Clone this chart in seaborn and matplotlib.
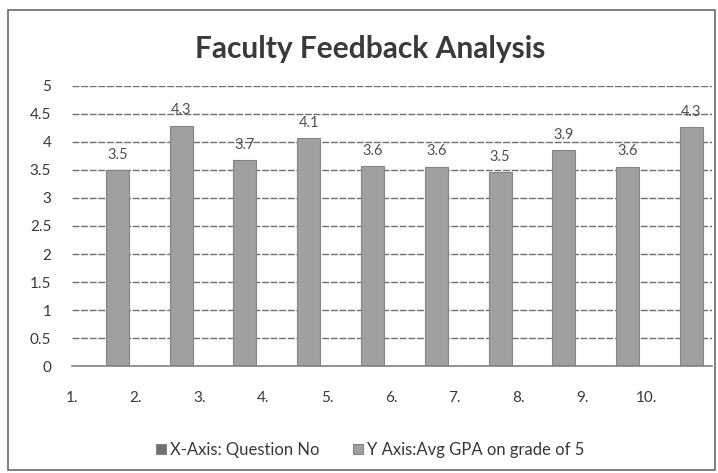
import numpy as np
import pandas as pd
import matplotlib
matplotlib.use("Agg")
import matplotlib.pyplot as plt
import seaborn as sns
from matplotlib.patches import Rectangle

# ---- data ----
questions = ["1.", "2.", "3.", "4.", "5.", "6.", "7.", "8.", "9.", "10."]
question_no_series = [0, 0, 0, 0, 0, 0, 0, 0, 0, 0]
avg_gpa = [3.5, 4.29, 3.68, 4.07, 3.57, 3.56, 3.46, 3.86, 3.56, 4.26]
series_names = ["X-Axis: Question No", "Y Axis:Avg GPA on grade of 5"]
title = "Faculty Feedback Analysis"
yticks = [0, 0.5, 1, 1.5, 2, 2.5, 3, 3.5, 4, 4.5, 5]

df = pd.DataFrame({
    "Question": questions * 2,
    "Value": question_no_series + avg_gpa,
    "Series": [series_names[0]] * len(questions) + [series_names[1]] * len(questions),
})

sns.set_theme(style="white")
plt.rcParams["font.family"] = ["Lato", "DejaVu Sans"]

fig = plt.figure(figsize=(7.18, 4.73), dpi=100)
ax = fig.add_axes([0.1003, 0.2262, 0.8913, 0.592])

palette = {series_names[0]: "#6f6f6f", series_names[1]: "#a0a0a0"}
sns.barplot(data=df, x="Question", y="Value", hue="Series", palette=palette,
            width=0.72, ax=ax, edgecolor="#858585", linewidth=0.8,
            saturation=1, legend=True)

# data labels for the GPA series
gpa_container = ax.containers[1]
ax.bar_label(gpa_container, labels=[f"{v:.1f}" for v in avg_gpa],
             padding=6, fontsize=10.5, color="#505050")

ax.set_ylim(0, 5)
ax.set_xlim(-0.5, len(questions) - 0.5)
ax.set_yticks(yticks)
ax.set_yticklabels([f"{t:g}" for t in yticks], fontsize=11, color="#383838")
ax.set_xticks(np.arange(len(questions)) - 0.53)
ax.set_xticklabels(questions, fontsize=11, color="#383838")
ax.tick_params(axis="x", length=0, pad=18)
ax.tick_params(axis="y", length=0, pad=15)
ax.set_xlabel("")
ax.set_ylabel("")

for t in yticks[1:]:
    ax.axhline(t, color="#707070", linewidth=1.0, linestyle=(0, (5, 1.2)), zorder=0)
ax.set_axisbelow(True)
for s in ["top", "right", "left"]:
    ax.spines[s].set_visible(False)
ax.spines["bottom"].set_color("#808080")
ax.spines["bottom"].set_linewidth(1.2)

leg = ax.legend(loc="center", bbox_to_anchor=(0.466, -0.30),
                ncol=2, frameon=False, fontsize=12, handlelength=0.6,
                handleheight=0.6, handletextpad=0.25, columnspacing=2.0)
for txt in leg.get_texts():
    txt.set_color("#383838")

fig.text(0.515, 0.897, title, ha="center", va="center", fontsize=21.5,
         fontweight="bold", color="#3a3a3a")

fig.patches.append(Rectangle((0.011, 0.006), 0.985, 0.973, transform=fig.transFigure,
                             fill=False, edgecolor="#6a6a6a", linewidth=1.2))

fig.savefig("out.png", dpi=100)
